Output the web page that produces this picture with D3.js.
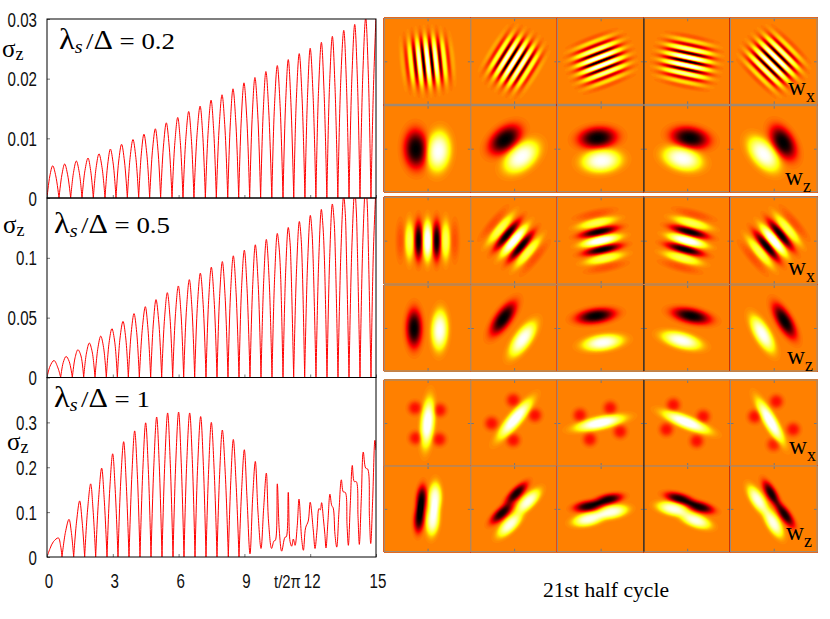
<!DOCTYPE html>
<html>
  <head>
    <meta charset="utf-8">
    <title>sigma_z and Wigner functions</title>
    <script src="https://cdn.jsdelivr.net/npm/d3@7"></script>
    <style media="screen">
      body { margin: 0; background: #fff; }
      svg { display: block; }
      .num { font-family: "Liberation Sans", sans-serif; font-size: 21px; fill: #111; }
      .ser { font-family: "Liberation Serif", serif; fill: #000; }
      .tick line { stroke: #777; }
    </style>
  </head>
  <body>
    <script type="text/javascript">

    // sigma_z(t/2pi), zero entries are the sharp cusps
    const sigma02 = [[0,0],[.13,.0037],[.26,.0054],[.40,.0037],[.547,0],[.68,.0039],[.805,.0057],[.94,.0039],[1.079,0],[1.21,.0043],[1.337,.0062],[1.47,.0043],[1.596,0],[1.73,.0046],[1.87,.0067],[1.99,.0046],[2.112,0],[2.24,.0051],[2.37,.0074],[2.51,.0051],[2.644,0],[2.77,.0057],[2.89,.0082],[3.02,.0057],[3.146,0],[3.27,.0062],[3.40,.0090],[3.53,.0062],[3.663,0],[3.79,.0068],[3.92,.0098],[4.05,.0068],[4.18,0],[4.30,.0074],[4.42,.0107],[4.55,.0074],[4.68,0],[4.81,.0080],[4.94,.0116],[5.06,.0080],[5.18,0],[5.31,.0087],[5.44,.0126],[5.57,.0087],[5.70,0],[5.83,.0093],[5.96,.0135],[6.08,.0093],[6.2,0],[6.33,.0100],[6.46,.0145],[6.58,.0100],[6.7,0],[6.84,.0106],[6.98,.0154],[7.10,.0106],[7.22,0],[7.35,.0113],[7.48,.0164],[7.60,.0113],[7.72,0],[7.85,.0119],[7.98,.0173],[8.11,.0119],[8.24,0],[8.36,.0126],[8.48,.0183],[8.61,.0126],[8.74,0],[8.86,.0133],[8.98,.0193],[9.11,.0133],[9.24,0],[9.36,.0139],[9.48,.0202],[9.61,.0139],[9.74,0],[9.86,.0146],[9.98,.0212],[10.11,.0146],[10.25,0],[10.37,.0153],[10.50,.0222],[10.63,.0153],[10.76,0],[10.88,.0160],[11.0,.0232],[11.12,.0160],[11.25,0],[11.37,.0167],[11.5,.0242],[11.63,.0167],[11.76,0],[11.88,.0173],[12.0,.0251],[12.13,.0173],[12.26,0],[12.38,.0180],[12.51,.0261],[12.63,.0180],[12.76,0],[12.88,.0187],[13.01,.0271],[13.13,.0187],[13.26,0],[13.39,.0194],[13.53,.0281],[13.65,.0194],[13.77,0],[13.90,.0201],[14.03,.0291],[14.15,.0201],[14.27,0],[14.40,.0208],[14.53,.0302],[14.65,.0208],[14.77,0],[14.88,.0180],[15,.0305]];

    const sigma05 = [[0,0],[.14,.0095],[.32,.0142],[.50,.0080],[.623,0],[.74,.0125],[.87,.0176],[1.01,.0135],[1.155,0],[1.28,.0165],[1.41,.0232],[1.55,.0180],[1.672,0],[1.80,.0205],[1.93,.0288],[2.06,.0215],[2.188,0],[2.32,.0245],[2.45,.0346],[2.58,.0250],[2.705,0],[2.83,.029],[2.96,.0408],[3.09,.0295],[3.207,0],[3.33,.0330],[3.465,.0469],[3.59,.0330],[3.708,0],[3.84,.0375],[3.967,.0534],[4.09,.0375],[4.21,0],[4.35,.0415],[4.483,.0592],[4.60,.0415],[4.726,0],[4.85,.0455],[4.97,.0651],[5.10,.0455],[5.228,0],[5.36,.0496],[5.486,.0709],[5.61,.0496],[5.73,0],[5.86,.0535],[5.988,.0765],[6.11,.0535],[6.231,0],[6.36,.0573],[6.489,.0818],[6.61,.0573],[6.733,0],[6.86,.0610],[6.991,.0872],[7.12,.0610],[7.249,0],[7.37,.0645],[7.492,.0922],[7.62,.0645],[7.751,0],[7.87,.0678],[7.994,.0969],[8.12,.0678],[8.252,0],[8.37,.0712],[8.495,.1017],[8.62,.0712],[8.754,0],[8.87,.0745],[8.997,.1064],[9.12,.0745],[9.255,0],[9.38,.0776],[9.498,.1109],[9.63,.0776],[9.757,0],[9.88,.0808],[10.0,.1154],[10.13,.0808],[10.258,0],[10.38,.0843],[10.50,.1204],[10.58,.1090],[10.65,.0860],[10.76,0],[10.88,.0878],[11.0,.1254],[11.08,.113],[11.13,.09],[11.246,0],[11.38,.0913],[11.505,.1304],[11.58,.118],[11.64,.092],[11.748,0],[11.88,.0948],[12.006,.1355],[12.08,.122],[12.14,.095],[12.264,0],[12.39,.0984],[12.508,.1405],[12.58,.127],[12.65,.098],[12.766,0],[12.89,.101],[13.009,.145],[13.09,.131],[13.15,.10],[13.267,0],[13.4,.105],[13.526,.152],[13.6,.137],[13.65,.105],[13.769,0],[13.9,.109],[14.03,.157],[14.1,.14],[14.15,.108],[14.271,0],[14.4,.113],[14.53,.162],[14.6,.145],[14.65,.11],[14.772,0],[14.88,.105],[15,.16]];

    const sigma1 = [[0,0],[.14,.019],[.29,.034],[.517,.0425],[.62,.025],[.684,0],[.84,.055],[1.003,.084],[1.11,.055],[1.216,0],[1.35,.08],[1.489,.125],[1.60,.08],[1.717,0],[1.85,.105],[1.991,.163],[2.10,.105],[2.219,0],[2.35,.128],[2.492,.198],[2.61,.128],[2.736,0],[2.86,.15],[2.994,.23],[3.11,.15],[3.237,0],[3.36,.167],[3.495,.257],[3.61,.167],[3.739,0],[3.87,.183],[3.997,.281],[4.12,.183],[4.24,0],[4.37,.195],[4.498,.299],[4.62,.195],[4.742,0],[4.87,.203],[5.0,.312],[5.12,.203],[5.243,0],[5.37,.209],[5.50,.321],[5.62,.209],[5.745,0],[5.87,.21],[6.0,.323],[6.12,.21],[6.246,0],[6.37,.209],[6.505,.321],[6.63,.209],[6.748,0],[6.87,.204],[7.006,.313],[7.13,.204],[7.249,0],[7.37,.195],[7.492,.30],[7.62,.195],[7.751,0],[7.87,.184],[7.994,.283],[8.13,.184],[8.267,0],[8.38,.17],[8.495,.262],[8.62,.165],[8.754,0],[8.88,.155],[8.997,.239],[9.12,.13],[9.255,.007],[9.38,.135],[9.498,.213],[9.62,.10],[9.757,.019],[9.88,.11],[10.0,.187],[10.1,.08],[10.24,.019],[10.35,.036],[10.41,.037],[10.5,.163],[10.59,.06],[10.70,.013],[10.85,.044],[10.91,.045],[11.0,.144],[11.08,.035],[11.155,.024],[11.23,.04],[11.31,.026],[11.41,.07],[11.49,.129],[11.61,.041],[11.69,.015],[11.79,.065],[11.91,.08],[12.0,.122],[12.14,.06],[12.22,.019],[12.31,.06],[12.40,.108],[12.46,.105],[12.52,.121],[12.6,.086],[12.67,.05],[12.72,.02],[12.81,.08],[12.9,.14],[12.98,.115],[13.05,.109],[13.13,.05],[13.21,.022],[13.31,.10],[13.42,.172],[13.51,.145],[13.6,.144],[13.68,.07],[13.74,.026],[13.83,.12],[13.92,.204],[14.01,.168],[14.1,.168],[14.18,.09],[14.24,.028],[14.33,.13],[14.42,.234],[14.53,.198],[14.62,.196],[14.7,.09],[14.76,.03],[14.85,.13],[14.95,.26],[15,.238]];

    const xTicks = [0, 3, 6, 9, 12, 15];
    const yTicks02 = [0, 0.01, 0.02, 0.03];
    const yTicks05 = [0, 0.05, 0.1];
    const yTicks1 = [0, 0.1, 0.2, 0.3];

    // each tile is a sum of lobes: [cx, cy, long, short, angle, amp]
    const dark = -1, light = 1;

    const wz02 = [
      [[-.27,-.01,.42,.25,92,dark],[.25,-.06,.42,.25,85,light]],
      [[-.21,.21,.4,.25,40,dark],[.17,-.19,.42,.26,40,light]],
      [[-.07,.25,.41,.23,5,dark],[.02,-.28,.41,.24,5,light]],
      [[.07,.25,.41,.23,-10,dark],[-.11,-.23,.41,.24,-15,light]],
      [[.22,.14,.4,.23,-60,dark],[-.23,-.13,.42,.24,-50,light]]
    ];
    const wz05 = [
      [[-.31,-.01,.42,.17,90,dark],[.28,-.05,.42,.17,88,light]],
      [[-.25,.22,.42,.17,55,dark],[.2,-.26,.42,.17,55,light]],
      [[-.11,.28,.42,.16,8,dark],[.05,-.34,.42,.16,8,light]],
      [[.1,.28,.42,.16,-12,dark],[-.13,-.29,.42,.16,-15,light]],
      [[.25,.16,.42,.16,-60,dark],[-.26,-.14,.42,.16,-60,light]]
    ];
    const wx1 = [
      [[0,0,.52,.14,85,1.1],[-.29,.35,.15,.15,0,-.3],[.28,.3,.15,.15,0,-.3],[-.27,-.35,.15,.15,0,-.3],[.27,-.38,.15,.15,0,-.3]],
      [[.02,.09,.52,.14,50,1.1],[-.02,.53,.15,.15,0,-.3],[.48,.18,.15,.15,0,-.3],[-.52,-.01,.15,.15,0,-.3],[-.02,-.4,.15,.15,0,-.3]],
      [[-.02,0,.52,.13,12,1.1],[.22,.35,.15,.15,0,-.3],[-.48,.18,.15,.15,0,-.3],[-.25,-.38,.15,.15,0,-.3],[.45,-.2,.15,.15,0,-.3]],
      [[-.02,.02,.52,.13,-22,1.1],[-.32,.42,.15,.15,0,-.3],[.37,.15,.15,.15,0,-.3],[-.48,-.15,.15,.15,0,-.3],[.22,-.42,.15,.15,0,-.3]],
      [[-.08,.04,.52,.13,-60,1.1],[.06,.5,.15,.15,0,-.3],[-.44,.15,.15,.15,0,-.3],[.45,-.15,.15,.15,0,-.3],[0,-.5,.15,.15,0,-.25]]
    ];
    const wz1 = [
      [[-.14,.22,.31,.115,85,-.95],[-.19,-.22,.31,.115,85,-.95],[.17,.25,.33,.135,88,.95],[.12,-.26,.33,.135,85,.95]],
      [[.05,.36,.31,.115,45,-.95],[-.28,-.1,.31,.12,42,-.95],[.32,.17,.33,.135,45,.95],[-.1,-.37,.33,.135,45,.95]],
      [[.18,.22,.3,.115,12,-.95],[-.28,.06,.31,.12,8,-.95],[.26,-.07,.33,.135,10,.95],[-.28,-.24,.33,.135,12,.95]],
      [[-.18,.24,.31,.115,-15,-.95],[.29,.04,.31,.12,-15,-.95],[-.33,0,.33,.135,-12,.95],[.19,-.27,.33,.135,-20,.95]],
      [[-.06,.36,.3,.115,-60,-.95],[.26,-.14,.32,.115,-55,-.95],[-.37,.21,.33,.135,-58,.95],[-.01,-.33,.33,.135,-60,.95]]
    ];

    // gratings: [angle, stripe amps across the tile, centre in the middle]
    const lightCentre02 = [.12,-.3,.55,-.85,1.05,-1.2,1.25,-1.2,1.05,-.85,.55,-.3,.12];
    const darkCentre02 = [-.12,.3,-.55,.85,-1.05,1.2,-1.25,1.2,-1.05,.85,-.55,.3,-.12];
    const stripes05 = [-.12,.55,-1,1.1,-1,.55,-.12];
    const wxAngles02 = [96, 58, 21, -12, -45];
    const wxCentres02 = [lightCentre02, lightCentre02, darkCentre02, darkCentre02, darkCentre02];
    const wxAngles05 = [90, 50, 12, -15, -50];

    const tileColumns = [0, 1, 2, 3, 4];
    const rowTops = [18.3, 105.7, 197.3, 285, 380, 466];
    const rowHeights = [86, 86, 86.7, 86, 86, 85.7];
    const rowNames = ['x', 'z', 'x', 'z', 'x', 'z'];
    const labelSpots = [[788,95],[785,185],[788,275],[787,364],[789,454],[786,540]];

    const panels = [
      {data: sigma02, top: 19, bottom: 198, max: 0.03, ticks: yTicks02, fmt: d => d === 0 ? '0' : d.toFixed(2)},
      {data: sigma05, top: 198, bottom: 377.5, max: 0.15, ticks: yTicks05, fmt: d => d === 0 ? '0' : (d === 0.1 ? '0.1' : d.toFixed(2))},
      {data: sigma1, top: 377.5, bottom: 557, max: 0.4, ticks: yTicks1, fmt: d => d === 0 ? '0' : d.toFixed(1)}
    ];
    const ratioLabels = [{x: 59, y: 49, v: '0.2'}, {x: 54, y: 233, v: '0.5'}, {x: 54, y: 407, v: '1'}];
    const sigmaLabels = [[2,57], [3,233], [7,450]];

    const left = 47, right = 376;

    const svg = d3.select('body').append('svg')
      .attr('width', 830)
      .attr('height', 619);

    const x = d3.scaleLinear().domain([0, 15]).range([left, right]);

    panels.forEach((p, i) => {
      const y = d3.scaleLinear().domain([0, p.max]).range([p.bottom, p.top]);
      const g = svg.append('g');

      svg.append('clipPath').attr('id', 'clip' + i).append('rect')
        .attr('x', left).attr('y', p.top)
        .attr('width', right - left).attr('height', p.bottom - p.top);

      // split at the cusps so each arch gets its own smooth curve
      const arches = [];
      let cur = [];
      p.data.forEach(d => {
        cur.push(d);
        if (d[1] === 0 && cur.length > 1) { arches.push(cur); cur = [d]; }
      });
      arches.push(cur);

      const line = d3.line().x(d => x(d[0])).y(d => y(d[1])).curve(d3.curveCatmullRom.alpha(0.5));
      g.append('path')
        .attr('d', arches.map(a => line(a)).join(''))
        .attr('fill', 'none')
        .attr('stroke', '#ff0000')
        .attr('stroke-width', 1)
        .attr('clip-path', 'url(#clip' + i + ')');

      const yAxis = g.append('g')
        .attr('transform', 'translate(' + left + ',0)')
        .call(d3.axisRight(y).tickValues(p.ticks).tickSize(3).tickFormat(''));
      yAxis.select('.domain').remove();

      const xAxis = g.append('g')
        .attr('transform', 'translate(0,' + p.bottom + ')')
        .call(d3.axisTop(x).tickValues(xTicks).tickSize(3).tickFormat(''));
      xAxis.select('.domain').remove();

      g.selectAll('.ylab').data(p.ticks).enter().append('text')
        .attr('class', 'num')
        .attr('transform', d => 'translate(37,' + (y(d) + 7.5) + ') scale(0.72,1)')
        .attr('text-anchor', 'end')
        .text(p.fmt);

      g.append('rect')
        .attr('x', left).attr('y', p.top)
        .attr('width', right - left).attr('height', p.bottom - p.top)
        .attr('fill', 'none').attr('stroke', '#000').attr('stroke-width', 1);

      if (i === 2) {
        g.selectAll('.xlab').data(xTicks).enter().append('text')
          .attr('class', 'num')
          .attr('transform', d => 'translate(' + (x(d) + 2) + ',588) scale(0.72,1)')
          .attr('text-anchor', 'middle')
          .text(d => d);
      }

      // ratio label
      const r = ratioLabels[i];
      const t = svg.append('text').attr('class', 'ser')
        .attr('transform', 'translate(' + r.x + ',' + r.y + ') scale(1.12,1)')
        .attr('font-size', 24);
      t.append('tspan').attr('font-size', 29).text('λ');
      t.append('tspan').attr('font-style', 'italic').attr('font-size', 18).attr('dy', 4).text('s');
      t.append('tspan').attr('dy', -4).attr('dx', 3).text('/');
      t.append('tspan').attr('font-size', 27).text('Δ');
      t.append('tspan').text(' = ' + r.v);

      const s = svg.append('text').attr('class', 'ser')
        .attr('x', sigmaLabels[i][0]).attr('y', sigmaLabels[i][1])
        .attr('font-size', 25);
      s.append('tspan').text('σ');
      s.append('tspan').attr('font-size', 18).attr('dy', 3).text('z');
    });

    svg.append('text').attr('class', 'num')
      .attr('transform', 'translate(274,588) scale(0.83,1)')
      .style('font-size', '18px')
      .text('t/2π');

    // hot palette centred on the orange background
    const heat = d3.scaleLinear()
      .domain([-1, -1/3, 1/3, 1])
      .range(['#000000', '#ff0000', '#ffff00', '#ffffff'])
      .clamp(true);

    const step = 0.025;
    const levels = d3.range(-1.0125, 1.02, step);
    const gridSize = 87;
    const tileX = d3.scaleBand().domain(tileColumns).range([384.3, 817]);

    function stripes(angle, gap, short, long, amps) {
      const a = angle * Math.PI / 180;
      const mid = (amps.length - 1) / 2;
      return amps.map((amp, i) => [
        (i - mid) * gap * Math.sin(a),
        -(i - mid) * gap * Math.cos(a),
        long, short, angle, amp
      ]);
    }

    function field(lobes) {
      const u = d3.scaleLinear().domain([0, gridSize - 1]).range([-1, 1]);
      const v = d3.scaleLinear().domain([0, gridSize - 1]).range([1, -1]);
      const vals = new Array(gridSize * gridSize);
      for (let j = 0; j < gridSize; j++) {
        for (let i = 0; i < gridSize; i++) {
          let f = 0;
          lobes.forEach(l => {
            const th = l[4] * Math.PI / 180;
            const dx = u(i) - l[0], dy = v(j) - l[1];
            const a = (dx * Math.cos(th) + dy * Math.sin(th)) / l[2];
            const b = (-dx * Math.sin(th) + dy * Math.cos(th)) / l[3];
            f += l[5] * Math.exp(-Math.pow(a * a + b * b, 1.4));
          });
          vals[j * gridSize + i] = f;
        }
      }
      return vals;
    }

    function drawTile(col, row, lobes) {
      const w = tileX.bandwidth(), h = rowHeights[row];
      const g = svg.append('g')
        .attr('transform', 'translate(' + tileX(col) + ',' + rowTops[row] + ')');
      const vals = field(lobes);
      const low = d3.min(vals);
      g.append('rect').attr('width', w).attr('height', h).attr('fill', heat(Math.min(0, low)));

      const contours = d3.contours().size([gridSize, gridSize])
        .thresholds(levels.filter(t => t >= low - step))(vals);
      const path = d3.geoPath(d3.geoIdentity().scale(1));
      const k = g.append('g').attr('transform', 'scale(' + (w / (gridSize - 1)) + ',' + (h / (gridSize - 1)) + ') translate(-0.5,-0.5)');
      k.selectAll('path').data(contours).enter().append('path')
        .attr('d', path)
        .attr('fill', d => heat(d.value + step / 2));

      const sx = d3.scaleLinear().domain([-1, 1]).range([0, w]);
      const sy = d3.scaleLinear().domain([-1, 1]).range([h, 0]);
      const axes = [
        [d3.axisTop(sx), 0, h], [d3.axisBottom(sx), 0, 0],
        [d3.axisRight(sy), 0, 0], [d3.axisLeft(sy), w, 0]
      ];
      axes.forEach(a => {
        const ax = g.append('g')
          .attr('transform', 'translate(' + a[1] + ',' + a[2] + ')')
          .call(a[0].tickValues([0]).tickSize(3).tickFormat(''));
        ax.select('.domain').remove();
      });

      g.append('rect').attr('width', w).attr('height', h)
        .attr('fill', 'none').attr('stroke', '#8c8c8c').attr('stroke-width', 1);
    }

    tileColumns.forEach(c => {
      drawTile(c, 0, stripes(wxAngles02[c], 0.095, 0.062, 0.5, wxCentres02[c]));
      drawTile(c, 1, wz02[c]);
      drawTile(c, 2, stripes(wxAngles05[c], 0.21, 0.095, 0.42, stripes05));
      drawTile(c, 3, wz05[c]);
      drawTile(c, 4, wx1[c]);
      drawTile(c, 5, wz1[c]);
    });

    // black seam between the 3rd and 4th column
    rowTops.forEach((top, i) => {
      svg.append('line')
        .attr('x1', tileX(3)).attr('x2', tileX(3))
        .attr('y1', top).attr('y2', top + rowHeights[i])
        .attr('stroke', '#000').attr('stroke-width', 1);
    });

    rowNames.forEach((n, i) => {
      const t = svg.append('text').attr('class', 'ser')
        .attr('x', labelSpots[i][0]).attr('y', labelSpots[i][1])
        .attr('font-size', 25)
        .text('w');
      t.append('tspan').attr('font-size', 18).attr('dy', 7).text(n);
    });

    svg.append('text').attr('class', 'ser')
      .attr('x', 543).attr('y', 597)
      .attr('font-size', 20)
      .attr('textLength', 126)
      .attr('lengthAdjust', 'spacingAndGlyphs')
      .text('21st half cycle');

    </script>
  </body>
</html>
